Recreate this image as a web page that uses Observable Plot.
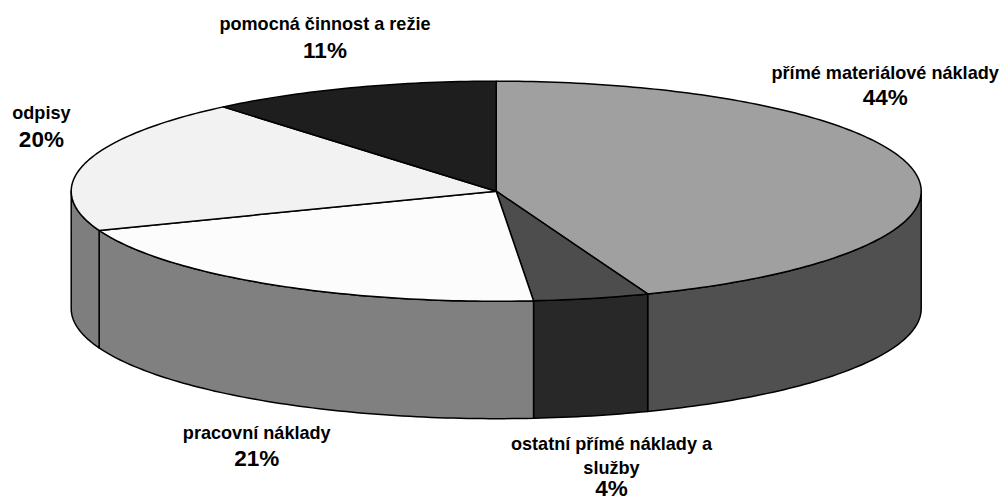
<!DOCTYPE html>
<html>
<head>
<meta charset="utf-8">
<script src="https://cdn.jsdelivr.net/npm/d3@7"></script>
<script src="https://cdn.jsdelivr.net/npm/@observablehq/plot@0.6"></script>
<style>
html,body{margin:0;padding:0;background:#fff;}
svg{display:block;}
</style>
</head>
<body>
<div id="chart"></div>
<script>
// Data
const names = ["přímé materiálové náklady", "ostatní přímé náklady a\nslužby", "pracovní náklady", "odpisy", "pomocná činnost a režie"];
const percentLabels = ["44%", "4%", "21%", "20%", "11%"];
const sliceShares = [44.2, 4.4, 20.6, 19.7, 11.1]; // share of the drawn circle
const topColors = ["#a0a0a0", "#4d4d4d", "#fcfcfc", "#f2f2f2", "#1e1e1e"];
const sideColors = ["#505050", "#282828", "#808080", "#7e7e7e", "#000000"];

// Pie geometry in radius units
const depth = 1.068;
const rad = d => d * Math.PI / 180;
const px = t => Math.sin(rad(t));
const py = t => Math.cos(rad(t));

let acc = 0;
const slices = sliceShares.map((s, i) => {
  const a0 = acc * 3.6; acc += s; const a1 = acc * 3.6;
  return {i, a0, a1, mid: (a0 + a1) / 2};
});

const arc = (a0, a1) => {
  const n = Math.max(2, Math.ceil(Math.abs(a1 - a0)));
  return d3.range(n + 1).map(k => a0 + (a1 - a0) * k / n);
};

const topPath = s => {
  const pts = [{x: 0, y: 0}, ...arc(s.a0, s.a1).map(t => ({x: px(t), y: py(t)}))];
  pts.push({x: 0, y: 0});
  return pts;
};
const sidePath = s => {
  const a0 = Math.max(s.a0, 90), a1 = Math.min(s.a1, 270);
  if (a1 <= a0) return null;
  const upper = arc(a0, a1).map(t => ({x: px(t), y: py(t)}));
  const lower = arc(a1, a0).map(t => ({x: px(t), y: py(t) - depth}));
  const pts = [...upper, ...lower];
  pts.push(upper[0]);
  return pts;
};

const lineOpts = fill => ({x: "x", y: "y", fill, stroke: "#000", strokeWidth: 1.5, strokeLinejoin: "round", curve: "linear"});

const marks = [];
slices.forEach(s => {
  const p = sidePath(s);
  if (p) marks.push(Plot.line(p, lineOpts(sideColors[s.i])));
});
slices.forEach(s => marks.push(Plot.line(topPath(s), lineOpts(topColors[s.i]))));

// Labels hang off each slice's rim midpoint with a per-label offset
const font = "Liberation Sans, Arial, sans-serif";
const offsets = [
  {dx: -29, dy: -100, pdy: 27},
  {dx: 20, dy: 38, pdy: 35},
  {dx: -14, dy: 29, pdy: 28},
  {dx: -43.5, dy: -52, pdy: 28},
  {dx: -26, dy: -66, pdy: 29}
];
slices.forEach(s => {
  const o = offsets[s.i];
  const anchor = [{x: px(s.mid), y: py(s.mid) - (s.mid > 90 && s.mid < 270 ? depth : 0)}];
  marks.push(Plot.text(anchor, {x: "x", y: "y", text: () => names[s.i], dx: o.dx, dy: o.dy,
    fontFamily: font, fontWeight: "bold", fontSize: 18.1, lineHeight: 1.33, fill: "#000", textAnchor: "middle"}));
  marks.push(Plot.text(anchor, {x: "x", y: "y", text: () => percentLabels[s.i], dx: o.dx, dy: o.dy + o.pdy,
    fontFamily: font, fontWeight: "bold", fontSize: 22.5, fill: "#000", textAnchor: "middle"}));
});

const chart = Plot.plot({
  width: 1001,
  height: 501,
  margin: 0,
  style: {background: "#fff", overflow: "visible"},
  x: {domain: [-1, 1], range: [70.7, 920.7], axis: null},
  y: {domain: [-1, 1], range: [300.7, 80.7], axis: null},
  marks
});
document.getElementById("chart").append(chart);
</script>
</body>
</html>
